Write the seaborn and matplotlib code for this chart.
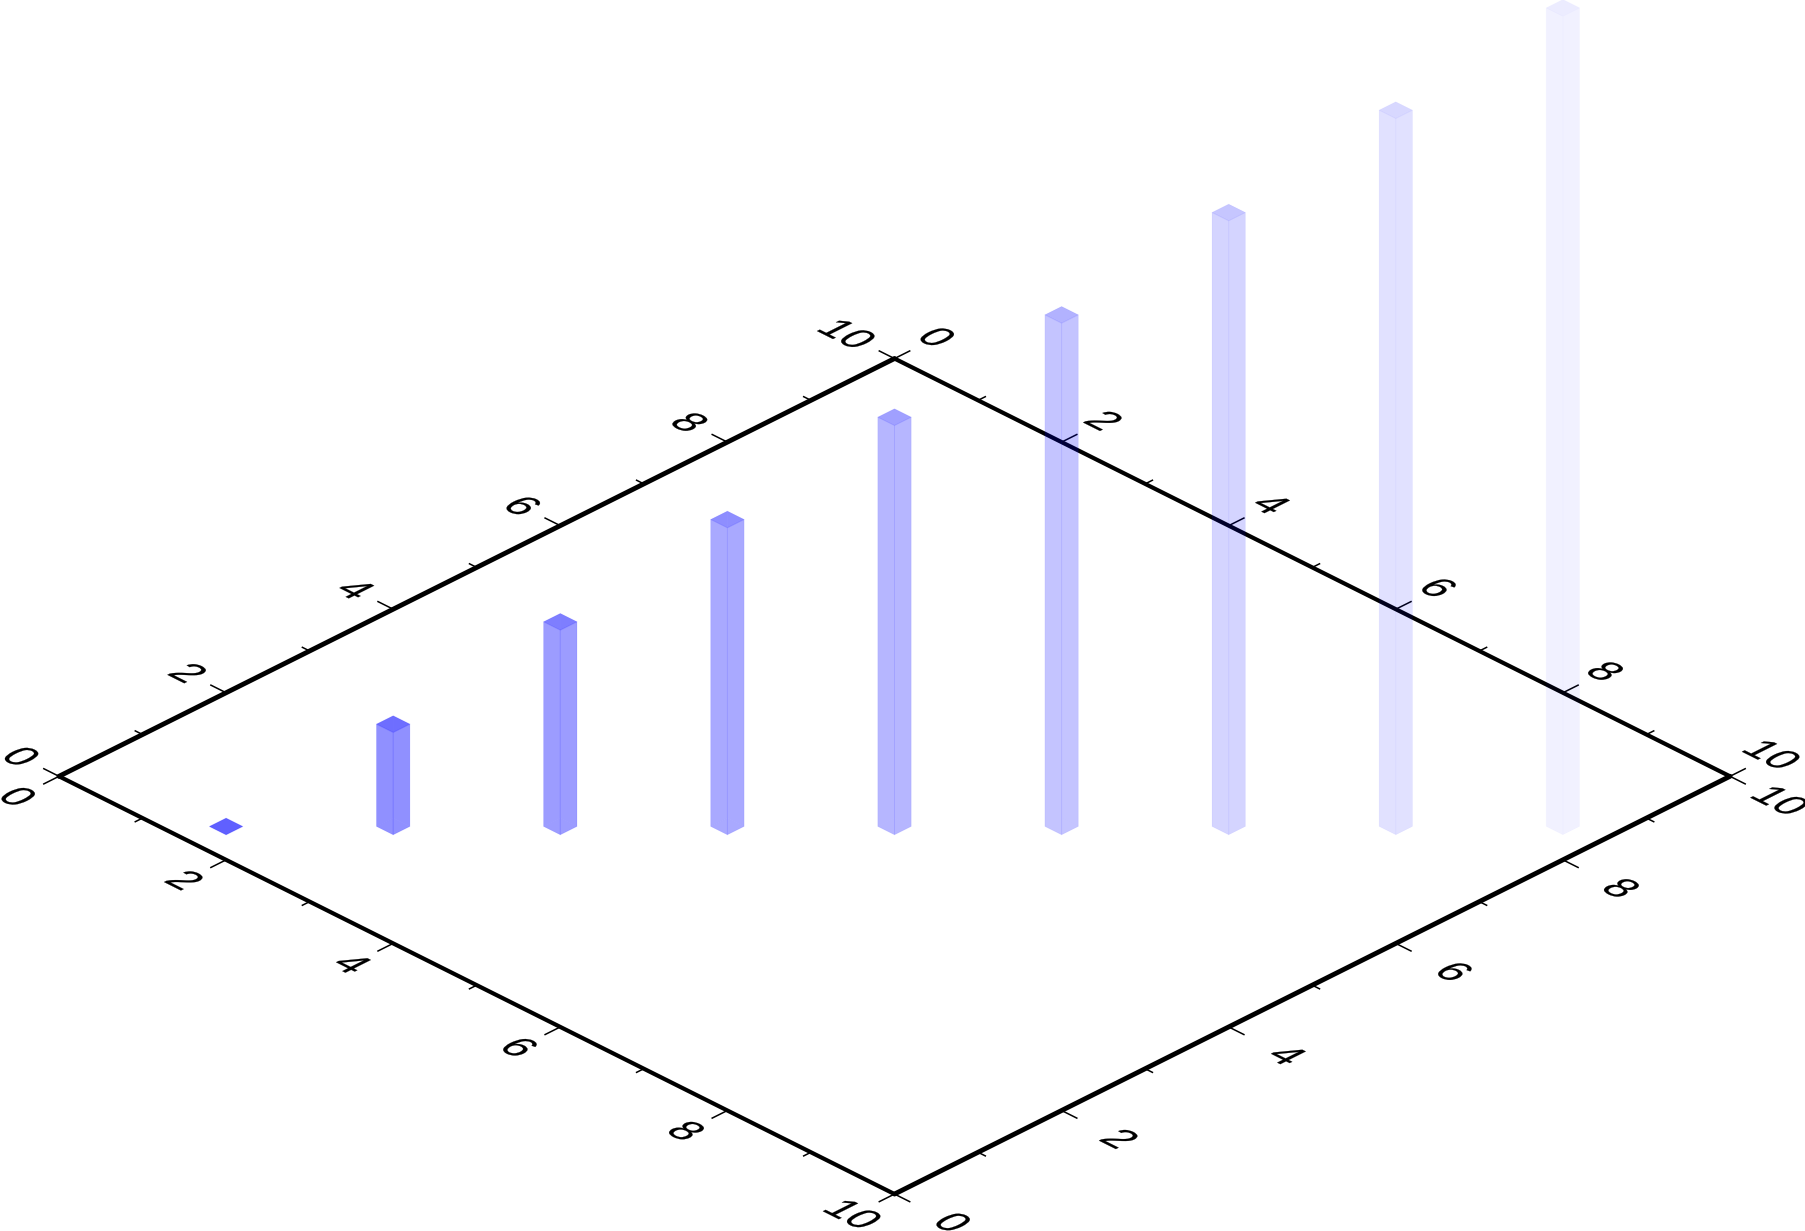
import matplotlib
matplotlib.use("Agg")
import matplotlib.pyplot as plt
import seaborn as sns
from matplotlib.patheffects import AbstractPathEffect
from matplotlib.transforms import Affine2D
from mpl_toolkits.mplot3d import proj3d

# ---- data -------------------------------------------------------------
bar_x = [1.6, 2.6, 3.6, 4.6, 5.6, 6.6, 7.6, 8.6, 9.6]
bar_y = [0.4, 1.4, 2.4, 3.4, 4.4, 5.4, 6.4, 7.4, 8.4]
bar_z = [0, 1, 2, 3, 4, 5, 6, 7, 8]
bar_opacity = [0.28, 0.248, 0.216, 0.184, 0.152, 0.12, 0.088, 0.058, 0.028]
major_ticks = [0, 2, 4, 6, 8, 10]
minor_ticks = [1, 3, 5, 7, 9]
tick_labels = ["0", "2", "4", "6", "8", "10"]

# ---- style ------------------------------------------------------------
sns.set_theme(style="white", rc={"figure.facecolor": "white"})
plt.rcParams["font.family"] = ["Liberation Sans", "DejaVu Sans"]
BLUE = sns.color_palette(["#0000ff"])[0]
BAR_SIDE = 0.2
UNIT_PX = 83.55              # horizontal pixels per data unit
LEFT_CORNER = (59.0, 776.3)  # pixel of (x=0, y=0), y measured from the top
FIG_W, FIG_H = 1805, 1231


class PlaneShear(AbstractPathEffect):
    """Lay a text on the z=0 plane of the isometric view."""

    def __init__(self, s=1.0, shift=(0, 0), stroke=0.15):
        super().__init__()
        self.m = Affine2D.from_values(s, -s / 2, s, s / 2, 0, 0)
        self.shift = shift
        self.stroke = stroke

    def draw_path(self, renderer, gc, tpath, affine, rgbFace=None):
        box = tpath.transformed(affine).get_extents()
        cx, cy = (box.x0 + box.x1) / 2, (box.y0 + box.y1) / 2
        t = (affine + Affine2D().translate(-cx, -cy) + self.m
             + Affine2D().translate(cx + self.shift[0], cy + self.shift[1]))
        gc0 = renderer.new_gc()
        gc0.copy_properties(gc)
        gc0.set_linewidth(self.stroke)
        renderer.draw_path(gc0, tpath, t, rgbFace)
        gc0.restore()


fig = plt.figure(figsize=(FIG_W / 100, FIG_H / 100), dpi=100)
ax = fig.add_axes([0, 0, 1, 1], projection="3d", proj_type="ortho")
ax.computed_zorder = False
ax.view_init(elev=30, azim=-45)
ax.set_xlim(0, 10)
ax.set_ylim(0, 10)
ax.set_zlim(0, 10)
ax.set_box_aspect((1, 1, 1))
ax.set_axis_off()
ax.patch.set_visible(False)


def project(x, y, z):
    X, Y, _ = proj3d.proj_transform(x, y, z, ax.get_proj())
    return X, Y


def to_px(x, y, z):
    return ax.transData.transform(project(x, y, z))


# fit the axes so the plane lands on its pixel position
w = 1800.0
left, bottom = 0.0, -200.0
ax.set_position([left / FIG_W, bottom / FIG_H, w / FIG_W, w / FIG_H])
fig.canvas.draw()
scale = UNIT_PX * 10 / (to_px(10, 0, 0)[0] - to_px(0, 0, 0)[0])
w *= scale
ax.set_position([left / FIG_W, bottom / FIG_H, w / FIG_W, w / FIG_H])
fig.canvas.draw()
p0 = to_px(0, 0, 0)
left += LEFT_CORNER[0] - p0[0]
bottom += (FIG_H - LEFT_CORNER[1]) - p0[1]
ax.set_position([left / FIG_W, bottom / FIG_H, w / FIG_W, w / FIG_H])

# ---- frame ------------------------------------------------------------
THIN, THICK = 3.0, 3.5
edges = [
    ((0, 0), (10, 0), THIN),    # lower left
    ((10, 0), (10, 10), THICK), # lower right
    ((0, 0), (0, 10), THICK),   # upper left
    ((0, 10), (10, 10), THIN),  # upper right
]
for (x0, y0), (x1, y1), lw in edges:
    ax.plot([x0, x1], [y0, y1], [0, 0], color="black", lw=lw,
            solid_capstyle="round", zorder=2, clip_on=False)

TICK_MAJOR, TICK_MINOR = 0.19, 0.095
for ticks, length in ((major_ticks, TICK_MAJOR), (minor_ticks, TICK_MINOR)):
    for t in ticks:
        for xs, ys in (
            ([t, t], [0, -length]),
            ([t, t], [10, 10 + length]),
            ([0, -length], [t, t]),
            ([10, 10 + length], [t, t]),
        ):
            ax.plot(xs, ys, [0, 0], color="black", lw=1.1,
                    solid_capstyle="butt", zorder=1, clip_on=False)

# ---- tick labels ------------------------------------------------------
FONT = 13.3
shear = [PlaneShear(s=2.0, shift=(1.0, 1.0))]
for t, lab in zip(major_ticks, tick_labels):
    ten = lab == "10"
    places = (
        (t, -0.5),
        (t, 10.5),
        (-0.57 if ten else -0.46, t),
        (10.6 if ten else 10.69, t),
    )
    for px, py in places:
        X, Y = project(px, py, 0)
        ax.text2D(X, Y, lab, transform=ax.transData, ha="center",
                  va="center_baseline", fontsize=FONT, color="black",
                  family="Liberation Sans", path_effects=shear,
                  clip_on=False, zorder=5)

# ---- bars -------------------------------------------------------------
for x, y, z, a in zip(bar_x, bar_y, bar_z, bar_opacity):
    top = min(1.7 * a, 1)
    side = (*BLUE, a)
    line = (*BLUE, 0.35 * a)
    none = (*BLUE, 0.0)
    # face order of bar3d: -z, +z, -y, +y, -x, +x
    faces = [side, (*BLUE, top), side, side, side, side]
    outlines = [none, line, line, none, none, line]
    ax.bar3d(x - BAR_SIDE / 2, y - BAR_SIDE / 2, 0, BAR_SIDE, BAR_SIDE, z,
             color=faces, edgecolor=outlines, linewidth=0.7, shade=False,
             zorder=3, clip_on=False)

fig.savefig("out.png", dpi=100, facecolor="white")
